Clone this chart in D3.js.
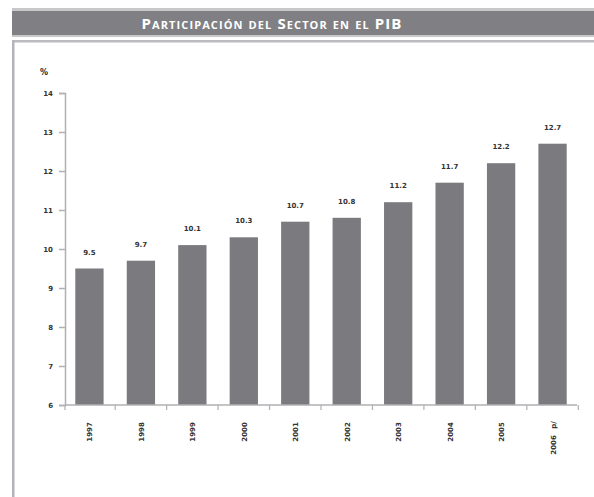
<!DOCTYPE html>
<html>
<head>
<meta charset="utf-8">
<script src="https://cdn.jsdelivr.net/npm/d3@7"></script>
<style>
  body { margin: 0; background: #fff; }
  svg { display: block; }
</style>
</head>
<body>
<div id="chart"></div>
<script>
var years = ["1997", "1998", "1999", "2000", "2001", "2002", "2003", "2004", "2005", "2006"];
var valores = [9.5, 9.7, 10.1, 10.3, 10.7, 10.8, 11.2, 11.7, 12.2, 12.7];
var etiquetas = ["9.5", "9.7", "10.1", "10.3", "10.7", "10.8", "11.2", "11.7", "12.2", "12.7"];
var yTicks = [6, 7, 8, 9, 10, 11, 12, 13, 14];
var titulo = "Participación del Sector en el PIB";

var W = 594, H = 497;
var svg = d3.select("#chart").append("svg")
    .attr("width", W).attr("height", H);

// cabecera gris
svg.append("rect").attr("x", 12).attr("y", 8).attr("width", W - 12).attr("height", 29)
    .attr("fill", "#c8c8ca");
svg.append("rect").attr("x", 12).attr("y", 11).attr("width", W - 12).attr("height", 24)
    .attr("fill", "#808084");
svg.append("text")
    .attr("x", 272).attr("y", 28.5)
    .attr("text-anchor", "middle")
    .style("font-family", "'Open Sans', sans-serif")
    .style("font-size", "15px")
    .style("font-weight", "700")
    .style("font-variant", "small-caps")
    .style("letter-spacing", "1.1px")
    .attr("fill", "#fff")
    .text(titulo);

// marco del panel
svg.append("rect").attr("x", 12).attr("y", 40).attr("width", W - 12).attr("height", 2.5)
    .attr("fill", "#bcbcc0");
svg.append("rect").attr("x", 12).attr("y", 40).attr("width", 2.5).attr("height", H - 40)
    .attr("fill", "#b4b4b8");

var margin = { top: 93, left: 65 };
var width = 512, height = 312;

var g = svg.append("g")
    .attr("transform", "translate(" + margin.left + "," + margin.top + ")");

var x = d3.scaleBand()
    .domain(years)
    .range([0, width])
    .paddingInner(0.45)
    .paddingOuter(0.2);

var y = d3.scaleLinear()
    .domain([6, 14])
    .range([height, 0]);

// eje Y
var yAxis = g.append("g")
    .call(d3.axisLeft(y).tickValues(yTicks).tickSize(6).tickPadding(6).tickFormat(d3.format("d")));
yAxis.select(".domain").attr("stroke", "#b0b0b4").attr("stroke-width", 1.5);
yAxis.selectAll(".tick line").attr("stroke", "#b0b0b4").attr("stroke-width", 1.5);
yAxis.selectAll("text")
    .style("font-family", "'DejaVu Sans', sans-serif")
    .style("font-size", "7px")
    .style("font-weight", "700")
    .attr("fill", "#333");

g.append("text")
    .attr("x", -25).attr("y", -18)
    .style("font-family", "'DejaVu Sans', sans-serif")
    .style("font-size", "8px")
    .style("font-weight", "700")
    .attr("fill", "#222")
    .text("%");

// barras
g.selectAll(".bar")
    .data(valores)
    .enter().append("rect")
    .attr("class", "bar")
    .attr("x", function (d, i) { return x(years[i]); })
    .attr("y", function (d) { return y(d); })
    .attr("width", x.bandwidth())
    .attr("height", function (d) { return height - y(d); })
    .attr("fill", "#7b7b7f");

// valores sobre las barras
g.selectAll(".lbl")
    .data(valores)
    .enter().append("text")
    .attr("class", "lbl")
    .attr("x", function (d, i) { return x(years[i]) + x.bandwidth() / 2; })
    .attr("y", function (d) { return y(d) - 14; })
    .attr("text-anchor", "middle")
    .style("font-family", "'DejaVu Sans', sans-serif")
    .style("font-size", "7px")
    .style("font-weight", "700")
    .attr("fill", "#333")
    .text(function (d, i) { return etiquetas[i]; });

// eje X: separadores entre categorias
var sep = years.map(function (d) { return x(d) + x.bandwidth() + x.step() * x.paddingInner() / 2; });
sep.unshift(0);
g.append("line")
    .attr("x1", 0).attr("x2", width)
    .attr("y1", height).attr("y2", height)
    .attr("stroke", "#b0b0b4").attr("stroke-width", 1.5);
g.selectAll(".sep")
    .data(sep)
    .enter().append("line")
    .attr("class", "sep")
    .attr("x1", function (d) { return d; }).attr("x2", function (d) { return d; })
    .attr("y1", height).attr("y2", height + 5)
    .attr("stroke", "#b0b0b4").attr("stroke-width", 1.2);

// etiquetas de años, giradas
var last = years[years.length - 1];
g.selectAll(".yr")
    .data(years)
    .enter().append("text")
    .attr("class", "yr")
    .attr("transform", function (d) {
        var yy = d === last ? height + 40 : height + 27;
        return "translate(" + (x(d) + x.bandwidth() / 2 + 3) + "," + yy + ") rotate(-90)";
    })
    .attr("text-anchor", "middle")
    .style("font-family", "'DejaVu Sans', sans-serif")
    .style("font-size", "7px")
    .style("font-weight", "700")
    .attr("fill", "#333")
    .text(function (d) { return d; });

// nota p/ en el ultimo año
g.append("text")
    .attr("transform", "translate(" + (x(last) + x.bandwidth() / 2 + 3) + "," + (height + 20) + ") rotate(-90)")
    .attr("text-anchor", "middle")
    .style("font-family", "'DejaVu Sans', sans-serif")
    .style("font-size", "7px")
    .style("font-weight", "700")
    .attr("fill", "#333")
    .text("p/");
</script>
</body>
</html>
